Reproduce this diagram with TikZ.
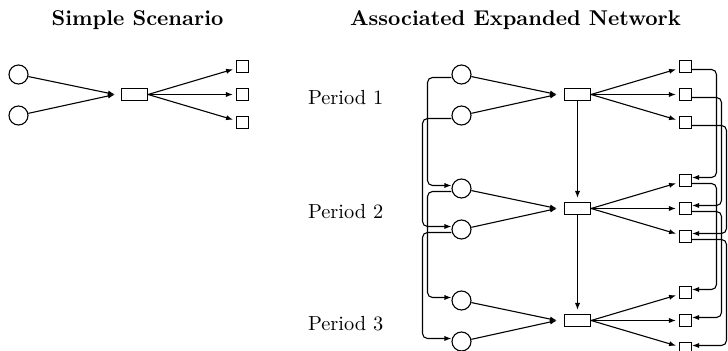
\documentclass[tikz,border=0pt]{standalone}
\usetikzlibrary{arrows.meta,calc}
\begin{document}
\begin{tikzpicture}[x=0.5pt,y=-0.5pt,
  line width=0.55pt,
  src/.style={draw,circle,minimum size=9.5pt,inner sep=0pt},
  hub/.style={draw,rectangle,minimum width=13pt,minimum height=6pt,inner sep=0pt},
  sink/.style={draw,rectangle,minimum size=6pt,inner sep=0pt},
  flow/.style={-{Latex[length=3.5pt,width=2.6pt]}},
  carry/.style={flow,rounded corners=2.5pt},
  title/.style={font=\fontsize{10.7}{12}\selectfont\bfseries,anchor=base,inner sep=0pt},
  period/.style={font=\fontsize{10.2}{12}\selectfont,anchor=base west,inner sep=0pt}]
\useasboundingbox (0,0) rectangle (728,351);

% titles
\node[title] (t1) at (137.5,25.5) {Simple Scenario};
\node[title] (t2) at (515.5,25.5) {Associated Expanded Network};

% simple scenario
\node[src] (sua) at (18.5,74.5) {};
\node[src] (sub) at (18.5,115.5) {};
\node[hub] (sh) at (134.5,94.5) {};
\node[sink] (ssa) at (242.5,66.5) {};
\node[sink] (ssb) at (242.5,94.5) {};
\node[sink] (ssc) at (242.5,122.5) {};
\coordinate (sin) at ($(sh.west)+(-6,0)$);
\draw[flow] (sua) -- (sin);
\draw[flow] (sub) -- (sin);
\foreach \s in {ssa,ssb,ssc}
  \draw[flow,shorten >=1.5pt] (sh.east) -- (\s);

% expanded network: one copy per period
\foreach \p/\b in {1/94.5,2/208.5,3/320.5}{
  \node[period] (pl\p) at (307.5,{\b+10}) {Period \p};
  \node[src] (ua\p) at (461.5,{\b-20}) {};
  \node[src] (ub\p) at (461.5,{\b+21}) {};
  \node[hub] (h\p) at (577.5,\b) {};
  \node[sink] (sa\p) at (685.5,{\b-28}) {};
  \node[sink] (sb\p) at (685.5,\b) {};
  \node[sink] (sc\p) at (685.5,{\b+28}) {};
  \coordinate (in\p) at ($(h\p.west)+(-7,0)$);
  \draw[flow] (ua\p) -- (in\p);
  \draw[flow] (ub\p) -- (in\p);
  \foreach \s in {sa,sb,sc}
    \draw[flow,shorten >=1.5pt] (h\p.east) -- (\s\p);
}

% rails carrying flow from one period to the next
\coordinate (railLa) at (427.5,0);
\coordinate (railLb) at (422.5,0);
\coordinate (railRa) at (716.5,0);
\coordinate (railRb) at (721.5,0);
\coordinate (railRc) at (726.5,0);

\foreach \p/\q in {1/2,2/3}{
  \draw[flow,shorten >=2pt] (h\p) -- (h\q);
  \draw[carry] ($(ua\p.west)+(0,3)$) -| ($(railLa|-ua\q.west)+(0,-3)$) -- ($(ua\q.west)+(0,-3)$);
  \draw[carry] ($(ub\p.west)+(0,3)$) -| ($(railLb|-ub\q.west)+(0,-3)$) -- ($(ub\q.west)+(0,-3)$);
  \draw[carry] ($(sa\p.east)+(0,3)$) -| ($(railRa|-sa\q.east)+(0,-3)$) -- ($(sa\q.east)+(0,-3)$);
  \draw[carry] ($(sb\p.east)+(0,3)$) -| ($(railRb|-sb\q.east)+(0,-3)$) -- ($(sb\q.east)+(0,-3)$);
  \draw[carry] ($(sc\p.east)+(0,3)$) -| ($(railRc|-sc\q.east)+(0,-3)$) -- ($(sc\q.east)+(0,-3)$);
}
\end{tikzpicture}
\end{document}
